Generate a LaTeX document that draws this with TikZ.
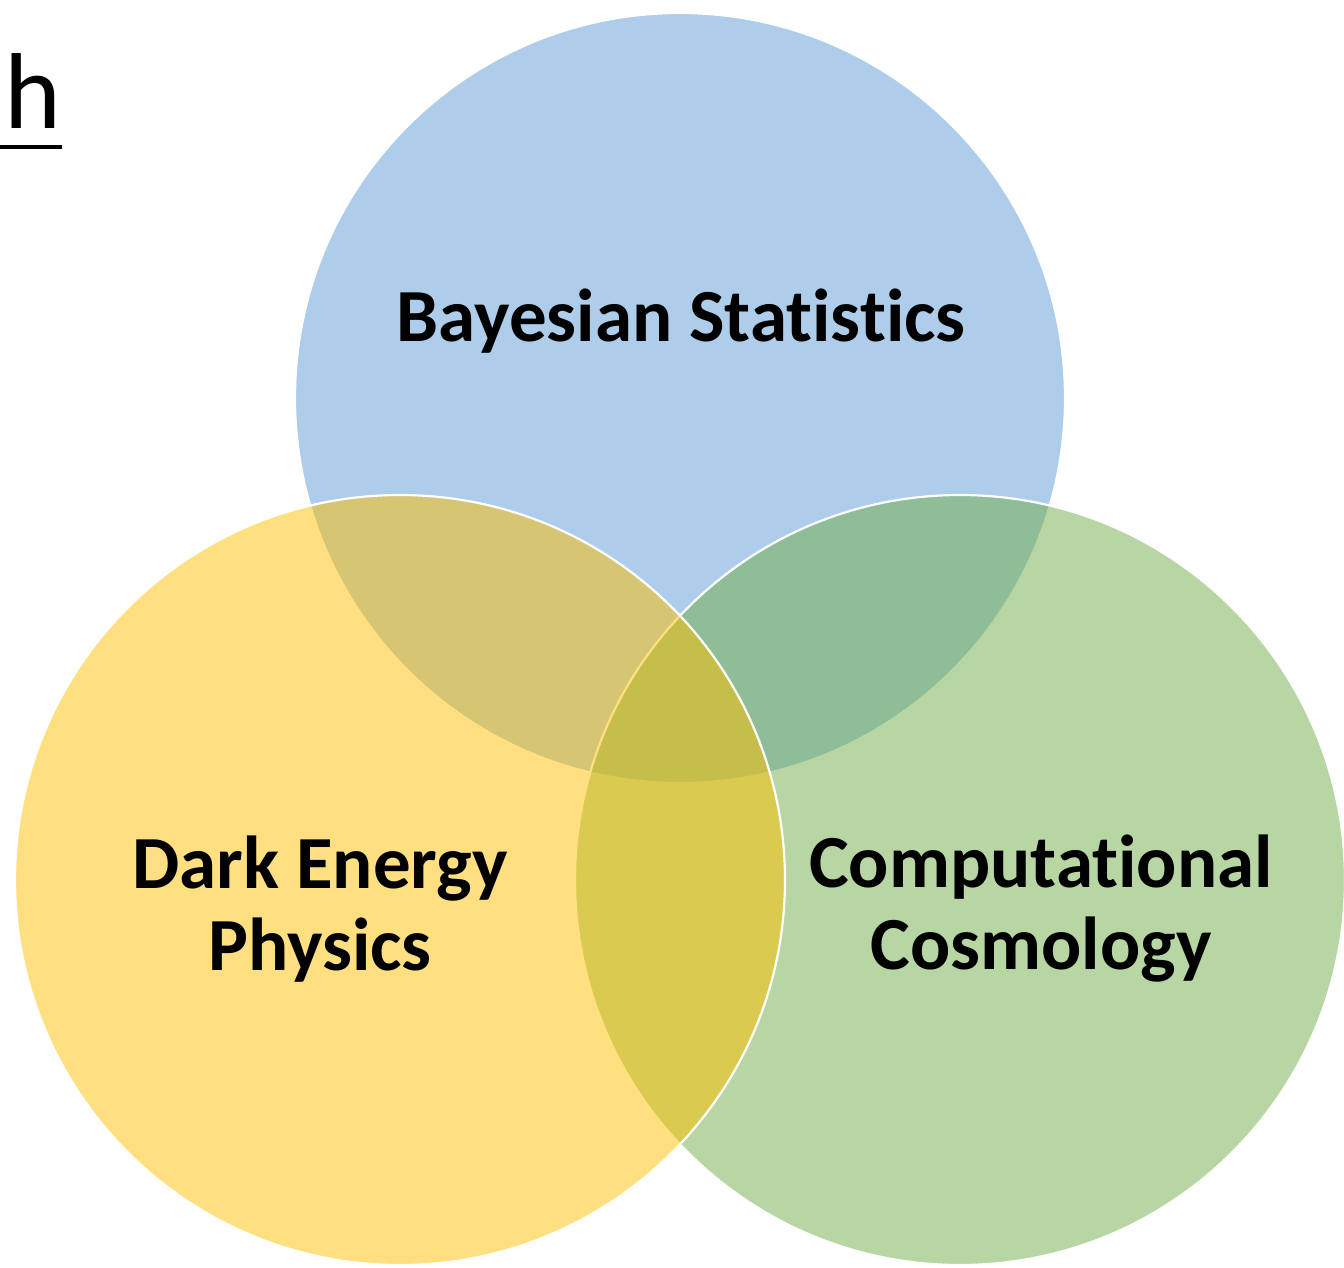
\documentclass[tikz,border=0pt]{standalone}
\usepackage{fontspec}
\setmainfont[Ligatures=NoCommon]{Carlito}
\usepackage{tikz}

\definecolor{bayesblue}{HTML}{5B9BD5}
\definecolor{cosmogreen}{HTML}{70AD47}
\definecolor{darkyellow}{HTML}{FFC000}

\begin{document}
\begin{tikzpicture}[x=1pt,y=-1pt,
venn/.style={fill=#1,fill opacity=0.5,draw=white,line width=2.2pt},
lbl/.style={font=\fontsize{75}{82}\selectfont\bfseries,align=center,text=black,inner sep=0pt}]
\useasboundingbox (0,0) rectangle (1344,1267);
% three overlapping sets
\draw[venn=bayesblue] (680,398) circle (385);
\draw[venn=cosmogreen] (960,880) circle (385);
\draw[venn=darkyellow] (400,880) circle (385);
\node[lbl] (bayes) at (681,321) {Bayesian Statistics};
\node[lbl] (darkenergy) at (320,909) {Dark Energy\\Physics};
\node[lbl] (compcosmo) at (1041,909) {Computational\\Cosmology};
% panel letter
\node[font=\fontsize{108}{110}\selectfont,inner sep=0pt,anchor=base] (panel) at (33,128) {h};
\draw[line width=4pt] (0,147) -- (62,147);
\end{tikzpicture}
\end{document}
